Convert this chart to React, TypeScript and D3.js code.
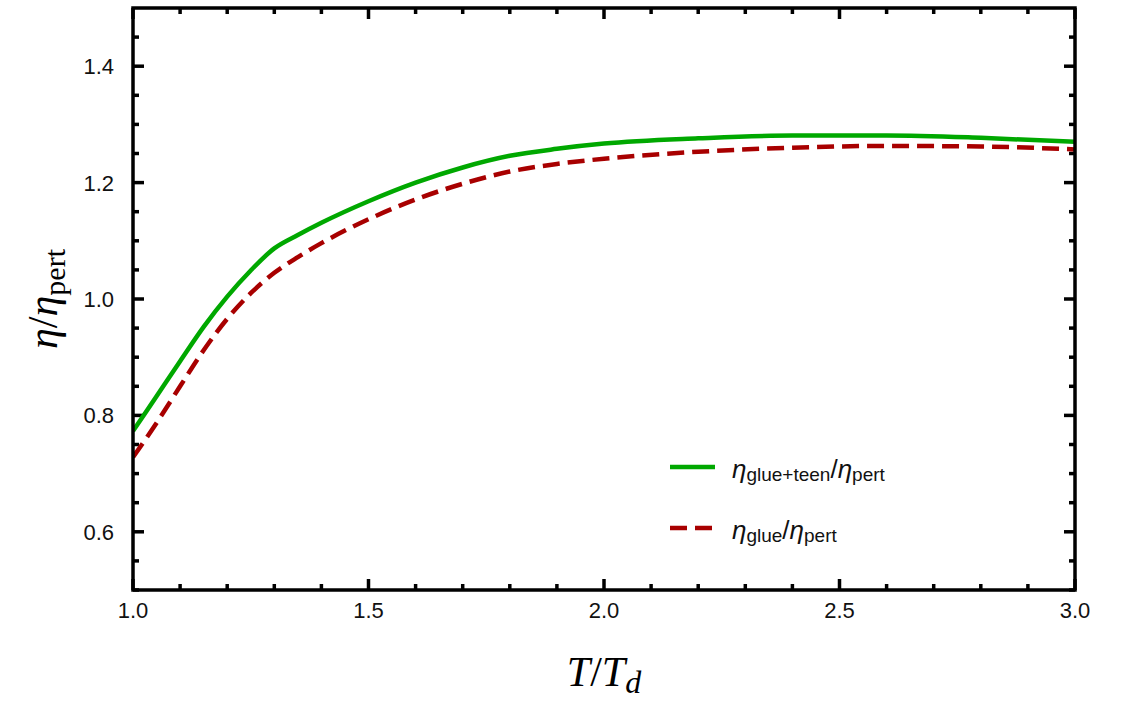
import React from 'react';
import * as d3 from 'd3';

// T/Td sample points
const tRatio = [1.0, 1.05, 1.1, 1.15, 1.2, 1.25, 1.3, 1.35, 1.4, 1.5, 1.6, 1.7, 1.8, 1.9, 2.0, 2.2, 2.4, 2.6, 2.8, 3.0];
// eta_glue+teen / eta_pert
const glueTeen = [0.773, 0.833, 0.893, 0.952, 1.004, 1.049, 1.087, 1.110, 1.131, 1.168, 1.200, 1.226, 1.246, 1.258, 1.267, 1.276, 1.281, 1.281, 1.277, 1.270];
// eta_glue / eta_pert
const glueOnly = [0.728, 0.787, 0.850, 0.912, 0.966, 1.010, 1.045, 1.072, 1.096, 1.137, 1.171, 1.198, 1.219, 1.232, 1.241, 1.253, 1.260, 1.263, 1.262, 1.257];

const xMajor = [1.0, 1.5, 2.0, 2.5, 3.0];
const yMajor = [0.6, 0.8, 1.0, 1.2, 1.4];

const App = () => {
  const width = 1121;
  const height = 707;
  const m = { left: 133, right: 1075, top: 8, bottom: 590 };

  const x = d3.scaleLinear([1, 3], [m.left, m.right]);
  const y = d3.scaleLinear([0.5, 1.5], [m.bottom, m.top]);

  const line = d3.line<number>()
    .x((_, i) => x(tRatio[i]))
    .y(d => y(d))
    .curve(d3.curveMonotoneX);

  const xMinor = d3.range(10, 31).map(v => v / 10).filter(v => !xMajor.some(M => Math.abs(M - v) < 1e-6));
  const yMinor = d3.range(10, 30).map(v => v / 20).filter(v => !yMajor.some(M => Math.abs(M - v) < 1e-6));

  const tickFont = '"Liberation Sans", Arial, sans-serif';
  const serif = '"Liberation Serif", "Times New Roman", serif';

  return (
    <svg width={width} height={height} style={{ position: 'absolute', left: 0, top: 0 }}>
      <rect width={width} height={height} fill="white" />
      <defs>
        <clipPath id="plot">
          <rect x={m.left} y={m.top} width={m.right - m.left} height={m.bottom - m.top} />
        </clipPath>
      </defs>

      {/* ticks, inward on all four sides */}
      <g stroke="black" strokeWidth={3.5}>
        {xMajor.map(v => (
          <g key={'xM' + v}>
            <line x1={x(v)} x2={x(v)} y1={m.bottom} y2={m.bottom - 11} />
            <line x1={x(v)} x2={x(v)} y1={m.top} y2={m.top + 11} />
          </g>
        ))}
        {xMinor.map(v => (
          <g key={'xm' + v}>
            <line x1={x(v)} x2={x(v)} y1={m.bottom} y2={m.bottom - 6} />
            <line x1={x(v)} x2={x(v)} y1={m.top} y2={m.top + 6} />
          </g>
        ))}
        {yMajor.map(v => (
          <g key={'yM' + v}>
            <line x1={m.left} x2={m.left + 11} y1={y(v)} y2={y(v)} />
            <line x1={m.right} x2={m.right - 11} y1={y(v)} y2={y(v)} />
          </g>
        ))}
        {yMinor.map(v => (
          <g key={'ym' + v}>
            <line x1={m.left} x2={m.left + 6} y1={y(v)} y2={y(v)} />
            <line x1={m.right} x2={m.right - 6} y1={y(v)} y2={y(v)} />
          </g>
        ))}
      </g>

      {/* curves */}
      <g clipPath="url(#plot)" fill="none" strokeWidth={4.5}>
        <path d={line(glueTeen) ?? ''} stroke="#00a800" />
        <path d={line(glueOnly) ?? ''} stroke="#a80000" strokeDasharray="17,8" />
      </g>

      {/* frame */}
      <rect x={m.left} y={m.top} width={m.right - m.left} height={m.bottom - m.top}
        fill="none" stroke="black" strokeWidth={3.5} />

      {/* tick labels */}
      <g fontFamily={tickFont} fontSize={22} fill="#111">
        {xMajor.map(v => (
          <text key={'xl' + v} x={x(v)} y={m.bottom + 28} textAnchor="middle">{v.toFixed(1)}</text>
        ))}
        {yMajor.map(v => (
          <text key={'yl' + v} x={m.left - 19} y={y(v) + 8} textAnchor="end">{v.toFixed(1)}</text>
        ))}
      </g>

      {/* axis titles */}
      <text x={(m.left + m.right) / 2} y={686} textAnchor="middle" fontFamily={serif} fontSize={42}>
        <tspan fontStyle="italic">T</tspan>
        <tspan>/</tspan>
        <tspan fontStyle="italic">T</tspan>
        <tspan fontStyle="italic" fontSize={32} dy={7}>d</tspan>
      </text>
      <text transform={`translate(57, ${y(1.0)}) rotate(-90)`} textAnchor="middle" fontFamily={serif} fontSize={42}>
        <tspan fontStyle="italic">η</tspan>
        <tspan>/</tspan>
        <tspan fontStyle="italic">η</tspan>
        <tspan fontSize={30} dy={8}>pert</tspan>
      </text>

      {/* legend */}
      <g>
        <line x1={670} x2={715} y1={467} y2={467} stroke="#00a800" strokeWidth={4.5} />
        <line x1={670} x2={715} y1={528} y2={528} stroke="#a80000" strokeWidth={4.5} strokeDasharray="17,8" />
        <text x={732} y={478} fontFamily={tickFont} fontSize={26} fill="#111">
          <tspan fontStyle="italic">η</tspan>
          <tspan fontSize={19} dy={3}>glue+teen</tspan>
          <tspan dy={-3}>/</tspan>
          <tspan fontStyle="italic">η</tspan>
          <tspan fontSize={19} dy={3}>pert</tspan>
        </text>
        <text x={732} y={539} fontFamily={tickFont} fontSize={26} fill="#111">
          <tspan fontStyle="italic">η</tspan>
          <tspan fontSize={19} dy={3}>glue</tspan>
          <tspan dy={-3}>/</tspan>
          <tspan fontStyle="italic">η</tspan>
          <tspan fontSize={19} dy={3}>pert</tspan>
        </text>
      </g>
    </svg>
  );
};

export default App;
